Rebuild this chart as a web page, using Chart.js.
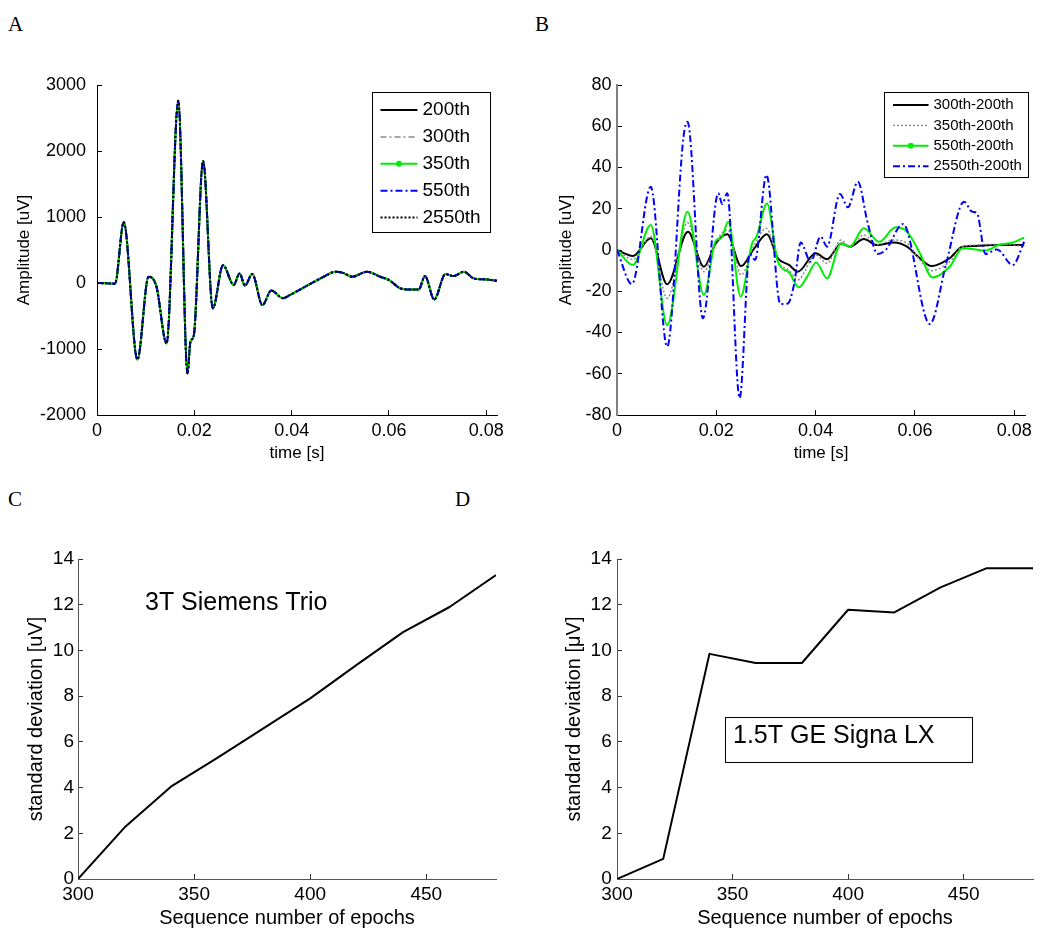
<!DOCTYPE html>
<html><head><meta charset="utf-8">
<script src="https://cdn.jsdelivr.net/npm/chart.js@4.4.1/dist/chart.umd.min.js"></script>
<style>
html,body{margin:0;padding:0;background:#fff;width:1042px;height:928px;overflow:hidden;}
body{position:relative;}
canvas{position:absolute;}
.lbl{position:absolute;font-family:'Liberation Serif','Times New Roman',serif;font-size:21px;line-height:21px;color:#000;}
</style></head><body>
<div class="lbl" style="left:8px;top:14px">A</div>
<div class="lbl" style="left:535px;top:14px">B</div>
<div class="lbl" style="left:8px;top:489px">C</div>
<div class="lbl" style="left:455px;top:489px">D</div>
<canvas id="cA" width="521" height="480" style="left:0;top:0"></canvas>
<canvas id="cB" width="521" height="480" style="left:521px;top:0"></canvas>
<canvas id="cC" width="521" height="460" style="left:0;top:480px"></canvas>
<canvas id="cD" width="521" height="460" style="left:521px;top:480px"></canvas>
<script>
// ---------- DATA ----------
// Panel A: averaged artifact template (the five averages coincide at this scale)
const tA = [0, 0.0020, 0.0037, 0.0055, 0.0083, 0.0106, 0.0122, 0.0143, 0.0167, 0.0186, 0.0192, 0.0199, 0.0218, 0.0238, 0.0259, 0.0281, 0.0293, 0.0304, 0.0319, 0.0340, 0.0358, 0.0382, 0.0397, 0.0432, 0.0466, 0.0490, 0.0507, 0.0524, 0.0555, 0.0582, 0.0600, 0.0623, 0.0644, 0.0661, 0.0674, 0.0693, 0.0716, 0.0733, 0.0754, 0.0774, 0.0795, 0.0822];
const ampA = [0, -5, -10, 920, -1160, 95, -50, -915, 2760, -1370, -890, -790, 1850, -385, 270, -30, 145, -40, 135, -335, -115, -230, -180, -40, 95, 170, 150, 95, 170, 95, 45, -80, -100, -100, 105, -250, 135, 105, 170, 70, 55, 35];
const seriesA = ['200th', '300th', '350th', '550th', '2550th'];

// Panel B: differences to the 200th average
const tB300 = [0, 0.0032, 0.0068, 0.0101, 0.0143, 0.0175, 0.0199, 0.0222, 0.0250, 0.0275, 0.0302, 0.0324, 0.0347, 0.0364, 0.0400, 0.0423, 0.0452, 0.0469, 0.0497, 0.0524, 0.0558, 0.0584, 0.0610, 0.0633, 0.0670, 0.0696, 0.0722, 0.0755, 0.0788, 0.0820];
const dB300 = [0, -2.9, 5.7, -16.6, 8.9, -8.1, 3.2, 7.6, -7.8, 0.3, 7.6, -4.0, -7.3, -10.5, -1.6, -4.5, 3.2, 1.6, 5.3, 2.4, 3.6, 1.6, -4.0, -7.8, -4.0, 1.6, 1.9, 2.4, 2.4, 2.4];
const tB350 = [0, 0.0032, 0.0068, 0.0101, 0.0142, 0.0175, 0.0199, 0.0223, 0.0250, 0.0275, 0.0301, 0.0324, 0.0347, 0.0364, 0.0400, 0.0423, 0.0451, 0.0469, 0.0497, 0.0524, 0.0558, 0.0584, 0.0610, 0.0633, 0.0670, 0.0696, 0.0722, 0.0755, 0.0788, 0.0820];
const dB350 = [0, -4.5, 6.5, -23.4, 13.3, -10.5, 4.0, 9.7, -12.1, 1.6, 10.5, -5.5, -10.0, -14.5, -2.4, -6.5, 4.8, 1.6, 7.3, 2.7, 4.8, 3.2, -4.8, -10.0, -5.7, 1.6, 2.4, 2.7, 2.7, 1.6];
const tB550 = [0, 0.0032, 0.0068, 0.0101, 0.0142, 0.0175, 0.0199, 0.0210, 0.0224, 0.0249, 0.0272, 0.0281, 0.0302, 0.0324, 0.0347, 0.0366, 0.0383, 0.0401, 0.0423, 0.0451, 0.0469, 0.0497, 0.0528, 0.0561, 0.0584, 0.0610, 0.0635, 0.0670, 0.0696, 0.0715, 0.0742, 0.0768, 0.0797, 0.0820];
const dB550 = [0, -7.3, 12.1, -36.4, 18.6, -21.8, 4.5, 5.7, 13.7, -22.6, 3.2, 6.5, 22.6, -5.7, -11.0, -18.1, -12.9, -6.0, -13.7, 3.2, 1.6, 10.5, 4.0, 11.0, 8.9, -1.6, -13.3, -8.1, 0.8, 0.5, -0.3, 2.4, 3.6, 6.0];
const tB2550 = [0, 0.0030, 0.0068, 0.0101, 0.0134, 0.0142, 0.0173, 0.0204, 0.0212, 0.0222, 0.0247, 0.0267, 0.0278, 0.0301, 0.0329, 0.0344, 0.0357, 0.0370, 0.0390, 0.0410, 0.0423, 0.0449, 0.0465, 0.0485, 0.0505, 0.0525, 0.0541, 0.0576, 0.0630, 0.0663, 0.0699, 0.0715, 0.0725, 0.0742, 0.0765, 0.0797, 0.0820];
const dB2550 = [0, -16.5, 30.7, -46.9, 55.0, 62.2, -33.1, 27.5, 22.3, 27.5, -71.9, -1.9, -4.8, 36.4, -26.2, -25.9, -16.2, 3.6, -5.7, 6.5, 1.6, 27.2, 20.7, 33.1, 12.9, -1.9, 0.0, 12.6, -35.9, -6.5, 23.4, 18.6, 17.8, -1.9, 0.3, -7.3, 4.0];
const seriesB = ['300th-200th', '350th-200th', '550th-200th', '2550th-200th'];

// Panels C and D: standard deviation vs epoch sequence number
const epochs = [300, 320, 340, 360, 380, 400, 420, 440, 460, 480];
const sdTrio = [0, 2.25, 4.04, 5.3, 6.6, 7.9, 9.37, 10.8, 11.9, 13.3];
const sdSigna = [0, 0.88, 9.85, 9.45, 9.45, 11.78, 11.66, 12.76, 13.6, 13.6];

// Tick values / labels
const timeTicks = [0, 0.02, 0.04, 0.06, 0.08];
const timeTickLabels = ['0', '0.02', '0.04', '0.06', '0.08'];
const ampTicksA = [-2000, -1000, 0, 1000, 2000, 3000];
const ampTickLabelsA = ['-2000', '-1000', '0', '1000', '2000', '3000'];
const ampTicksB = [-80, -60, -40, -20, 0, 20, 40, 60, 80];
const ampTickLabelsB = ['-80', '-60', '-40', '-20', '0', '20', '40', '60', '80'];
const epochTicks = [300, 350, 400, 450];
const epochTickLabels = ['300', '350', '400', '450'];
const sdTicks = [0, 2, 4, 6, 8, 10, 12, 14];
const sdTickLabels = ['0', '2', '4', '6', '8', '10', '12', '14'];

// ---------- RENDERING ----------
const FONT = "'Liberation Sans', Arial, Helvetica, sans-serif";
Chart.defaults.font.family = FONT;
Chart.defaults.color = '#000';

const pts = (xs, ys) => xs.map((x, i) => ({x: x, y: ys[i]}));

const boxLegend = {
  id: 'boxLegend',
  afterDatasetsDraw(chart, args, o) {
    if (!o || !o.show) return;
    const {ctx, chartArea} = chart;
    const x0 = Math.round(chartArea.left + o.left) + 0.5, y0 = Math.round(chartArea.top + o.top) + 0.5;
    ctx.save();
    ctx.fillStyle = '#fff';
    ctx.fillRect(x0, y0, o.width, o.height);
    ctx.strokeStyle = '#000'; ctx.lineWidth = 1; ctx.setLineDash([]);
    ctx.strokeRect(x0, y0, o.width, o.height);
    ctx.font = o.font; ctx.textBaseline = 'middle'; ctx.textAlign = 'left';
    chart.data.datasets.forEach((ds, i) => {
      const y = y0 + o.firstRow + i * o.rowGap;
      ctx.save();
      ctx.strokeStyle = ds.borderColor; ctx.lineWidth = ds.borderWidth;
      ctx.setLineDash(ds.borderDash || []);
      ctx.beginPath(); ctx.moveTo(x0 + o.lineStart, y); ctx.lineTo(x0 + o.lineEnd, y); ctx.stroke();
      if (ds.legendMarker) {
        ctx.fillStyle = ds.borderColor; ctx.beginPath();
        ctx.arc(x0 + (o.lineStart + o.lineEnd) / 2, y, 3, 0, Math.PI * 2); ctx.fill();
      }
      ctx.restore();
      ctx.fillStyle = '#000';
      ctx.fillText(ds.label, x0 + o.textStart, y);
    });
    ctx.restore();
  }
};
const noteText = {
  id: 'noteText',
  afterDatasetsDraw(chart, args, o) {
    if (!o || !o.text) return;
    const {ctx} = chart; const xs = chart.scales.x, ys = chart.scales.y;
    ctx.save();
    if (o.box) {
      const bx0 = Math.round(xs.getPixelForValue(o.box[0])) + 0.5, bx1 = Math.round(xs.getPixelForValue(o.box[2])) + 0.5;
      const by0 = Math.round(ys.getPixelForValue(o.box[1])) + 0.5, by1 = Math.round(ys.getPixelForValue(o.box[3])) + 0.5;
      ctx.fillStyle = '#fff'; ctx.fillRect(bx0, by0, bx1 - bx0, by1 - by0);
      ctx.strokeStyle = '#000'; ctx.lineWidth = 1; ctx.strokeRect(bx0, by0, bx1 - bx0, by1 - by0);
    }
    ctx.font = o.font; ctx.fillStyle = '#000'; ctx.textBaseline = 'middle'; ctx.textAlign = 'left';
    ctx.fillText(o.text, xs.getPixelForValue(o.x), ys.getPixelForValue(o.y));
    ctx.restore();
  }
};
Chart.register(boxLegend, noteText);

function xAxis(o) {
  return {
    type: 'linear', min: o.min, max: o.max,
    afterBuildTicks: s => { s.ticks = o.ticks.map(v => ({value: v})); },
    afterFit: s => { s.height = o.height; },
    ticks: {autoSkip: false, maxRotation: 0, minRotation: 0, font: {size: o.tickSize}, color: '#000', padding: o.tickPad,
      callback: (v, i) => o.labels[i]},
    grid: {display: true, drawOnChartArea: false, drawTicks: true, tickLength: -5, color: o.tickColor || '#000', lineWidth: 1},
    border: {display: true, color: o.axisColor || '#000', width: o.axisWidth || 1},
    title: {display: true, text: o.title, font: {size: o.titleSize}, color: '#000', padding: {top: 0, bottom: o.titlePad}}
  };
}
function yAxis(o) {
  return {
    type: 'linear', min: o.min, max: o.max,
    afterBuildTicks: s => { s.ticks = o.ticks.map(v => ({value: v})); },
    afterFit: s => { s.width = o.width; },
    ticks: {autoSkip: false, font: {size: o.tickSize}, color: '#000', padding: o.tickPad,
      callback: (v, i) => o.labels[i]},
    grid: {display: true, drawOnChartArea: false, drawTicks: true, tickLength: -5, color: o.tickColor || '#000', lineWidth: 1},
    border: {display: true, color: o.axisColor || '#000', width: o.axisWidth || 1},
    title: {display: true, text: o.title, font: {size: o.titleSize}, color: '#000', padding: {top: o.titlePad, bottom: 0}}
  };
}
const baseLine = {pointRadius: 0, pointHoverRadius: 0, fill: false, borderJoinStyle: 'round', borderCapStyle: 'butt'};

function makeChart(id, datasets, scales, padding, plugins) {
  return new Chart(document.getElementById(id), {
    type: 'line',
    data: {datasets: datasets},
    options: {
      responsive: false, animation: false, devicePixelRatio: 1,
      layout: {padding: padding, autoPadding: false},
      plugins: Object.assign({legend: {display: false}, tooltip: {enabled: false}}, plugins),
      scales: scales
    }
  });
}

// Panel A
const stylesA = [
  {borderColor: '#000000', borderWidth: 2, borderDash: [], order: 5},
  {borderColor: '#8a8a8a', borderWidth: 1.5, borderDash: [6, 3, 2, 3], order: 4},
  {borderColor: '#00ee00', borderWidth: 2, borderDash: [], order: 3, legendMarker: true},
  {borderColor: '#0000ff', borderWidth: 2, borderDash: [7, 3, 2, 3], order: 2},
  {borderColor: '#000000', borderWidth: 2, borderDash: [2, 2], order: 1}
];
makeChart('cA',
  seriesA.map((name, i) => Object.assign({label: name, data: pts(tA, ampA), cubicInterpolationMode: 'monotone'}, baseLine, stylesA[i])),
  {
    x: xAxis({min: 0, max: 0.0822, ticks: timeTicks, labels: timeTickLabels, height: 60, tickSize: 18, tickPad: 10, title: 'time [s]', titleSize: 17, titlePad: 11}),
    y: yAxis({min: -2000, max: 3000, ticks: ampTicksA, labels: ampTickLabelsA, width: 97, tickSize: 18, tickPad: 16, title: 'Amplitude [uV]', titleSize: 17, titlePad: 14})
  },
  {left: 0, top: 85, right: 24, bottom: 5},
  {boxLegend: {show: true, left: 275, top: 6.5, width: 118, height: 140, firstRow: 17.6, rowGap: 26.85, lineStart: 8, lineEnd: 45, textStart: 50, font: '19px ' + FONT}}
);

// Panel B
const stylesB = [
  {borderColor: '#000000', borderWidth: 2, borderDash: [], order: 4},
  {borderColor: '#8a8a8a', borderWidth: 1.5, borderDash: [2, 2], order: 3},
  {borderColor: '#00ee00', borderWidth: 2, borderDash: [], order: 2, legendMarker: true},
  {borderColor: '#0000ff', borderWidth: 2, borderDash: [7, 3, 2, 3], order: 1}
];
const dataB = [pts(tB300, dB300), pts(tB350, dB350), pts(tB550, dB550), pts(tB2550, dB2550)];
makeChart('cB',
  seriesB.map((name, i) => Object.assign({label: name, data: dataB[i], cubicInterpolationMode: 'monotone'}, baseLine, stylesB[i])),
  {
    x: xAxis({min: 0, max: 0.0822, ticks: timeTicks, labels: timeTickLabels, height: 60, tickSize: 18, tickPad: 10, title: 'time [s]', titleSize: 17, titlePad: 11}),
    y: yAxis({min: -80, max: 80, ticks: ampTicksB, labels: ampTickLabelsB, width: 96, tickSize: 18, tickPad: 10.5, title: 'Amplitude [uV]', titleSize: 17, titlePad: 35, axisColor: '#808080', axisWidth: 2})
  },
  {left: 0, top: 85, right: 9, bottom: 5},
  {boxLegend: {show: true, left: 267, top: 7, width: 144, height: 85, firstRow: 12.5, rowGap: 20.4, lineStart: 8.5, lineEnd: 44, textStart: 49, font: '15px ' + FONT}}
);

// Panel C
makeChart('cC',
  [Object.assign({label: 'SD', data: pts(epochs, sdTrio), tension: 0, borderColor: '#000', borderWidth: 2}, baseLine)],
  {
    x: xAxis({min: 300, max: 480, ticks: epochTicks, labels: epochTickLabels, height: 61, tickSize: 19, tickPad: 9.3, title: 'Sequence number of epochs', titleSize: 20, titlePad: 10, axisColor: '#555', tickColor: '#333'}),
    y: yAxis({min: 0, max: 14, ticks: sdTicks, labels: sdTickLabels, width: 78, tickSize: 19, tickPad: 9, title: 'standard deviation [uV]', titleSize: 20, titlePad: 24.7, axisColor: '#555', tickColor: '#333'})
  },
  {left: 0, top: 79, right: 25, bottom: 0},
  {noteText: {text: '3T Siemens Trio', x: 328.85, y: 12.09, font: '25px ' + FONT}}
);

// Panel D
makeChart('cD',
  [Object.assign({label: 'SD', data: pts(epochs, sdSigna), tension: 0, borderColor: '#000', borderWidth: 2}, baseLine)],
  {
    x: xAxis({min: 300, max: 480, ticks: epochTicks, labels: epochTickLabels, height: 61, tickSize: 19, tickPad: 9.3, title: 'Sequence number of epochs', titleSize: 20, titlePad: 10, axisColor: '#555', tickColor: '#333'}),
    y: yAxis({min: 0, max: 14, ticks: sdTicks, labels: sdTickLabels, width: 96, tickSize: 19, tickPad: 10.3, title: 'standard deviation [\u03bcV]', titleSize: 20, titlePad: 41, axisColor: '#555', tickColor: '#333'})
  },
  {left: 0, top: 79, right: 9, bottom: 0},
  {noteText: {text: '1.5T GE Signa LX', x: 350.2, y: 6.25, font: '25px ' + FONT, box: [346.7, 7.107, 453.6, 5.137]}}
);
</script>
</body></html>
